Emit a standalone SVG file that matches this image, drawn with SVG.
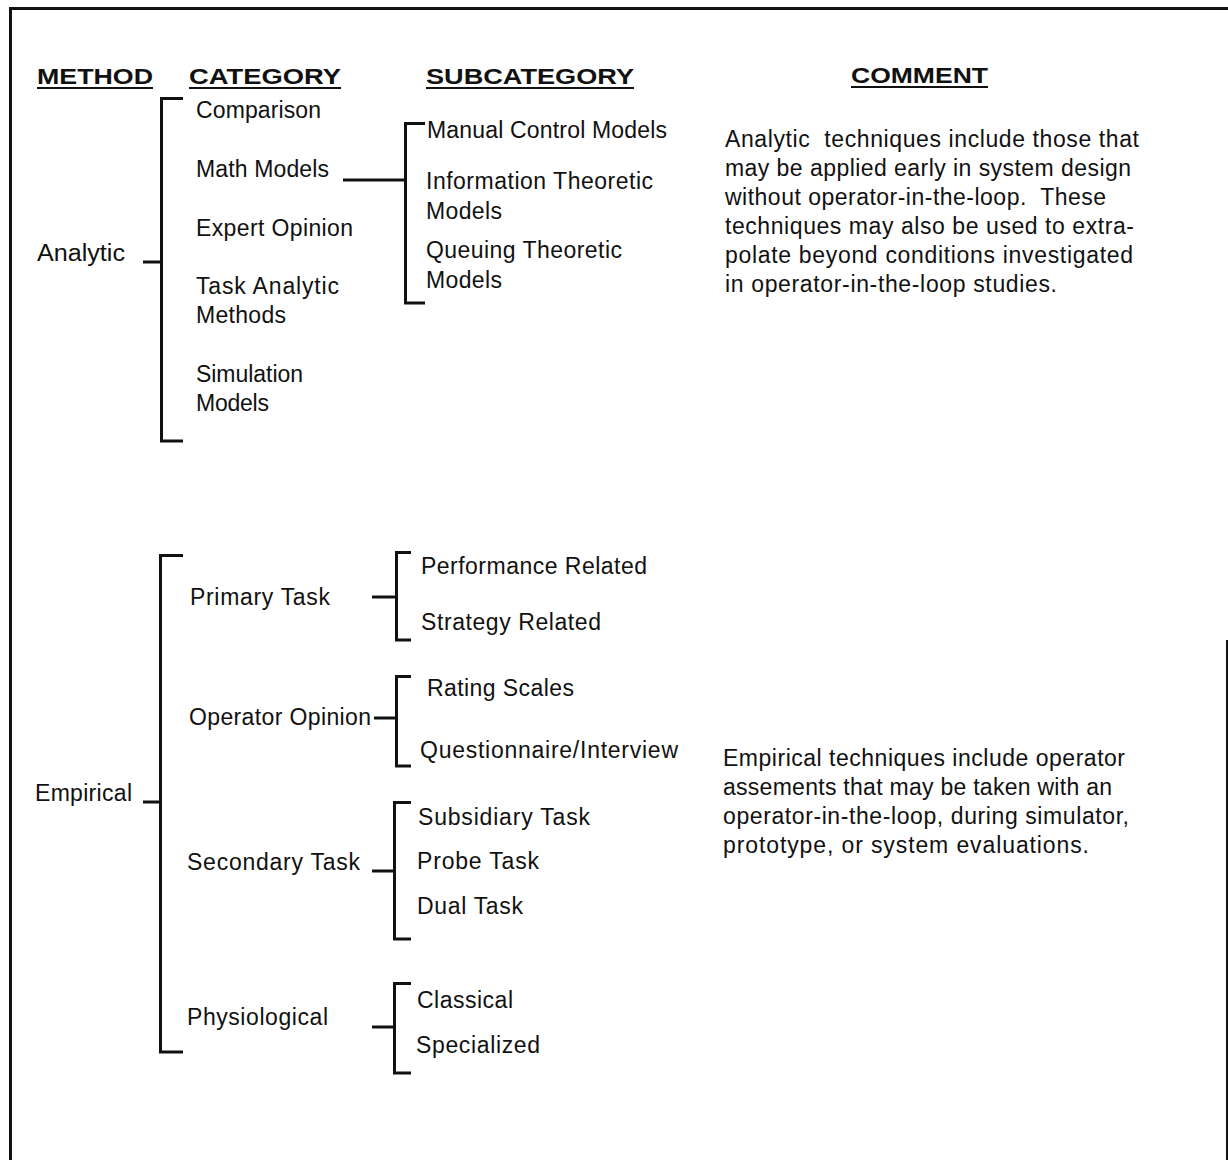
<svg xmlns="http://www.w3.org/2000/svg" width="1228" height="1160" viewBox="0 0 1228 1160">
<style>
text{font-family:"Liberation Sans",Arial,Helvetica,sans-serif;font-size:23px;fill:#111}
.h{font-weight:bold;font-size:22px}
.c{stroke:#111;stroke-width:3;fill:none}
.u{stroke:#111;stroke-width:2}
.b{stroke:#111;fill:none}
</style>
<rect width="1228" height="1160" fill="#fff"/>
<g id="border">
<line class="b" x1="9" y1="8.5" x2="1228" y2="8.5" stroke-width="3"/>
<line class="b" x1="10.5" y1="8" x2="10.5" y2="1160" stroke-width="3"/>
<line class="b" x1="1227" y1="640" x2="1227" y2="1160" stroke-width="2"/>
</g>
<g id="headers">
<text class="h" x="37" y="84" textLength="116" lengthAdjust="spacingAndGlyphs">METHOD</text>
<line class="u" x1="37" y1="88" x2="153" y2="88"/>
<text class="h" x="189" y="84" textLength="152" lengthAdjust="spacingAndGlyphs">CATEGORY</text>
<line class="u" x1="189" y1="88" x2="341" y2="88"/>
<text class="h" x="426" y="84" textLength="208" lengthAdjust="spacingAndGlyphs">SUBCATEGORY</text>
<line class="u" x1="426" y1="88" x2="634" y2="88"/>
<text class="h" x="851" y="83" textLength="137" lengthAdjust="spacingAndGlyphs">COMMENT</text>
<line class="u" x1="851" y1="87" x2="988" y2="87"/>
</g>
<g id="connectors">
<path class="c" d="M183,98.5 H161.5 V441 H183"/>
<path class="c" d="M143,262 H161"/>
<path class="c" d="M343,180 H405"/>
<path class="c" d="M425,123.5 H405.5 V303 H425"/>
<path class="c" d="M183,555.5 H160.5 V1052 H183"/>
<path class="c" d="M143,802 H160"/>
<path class="c" d="M372,597 H396"/>
<path class="c" d="M411,552.5 H396.5 V640 H411"/>
<path class="c" d="M374,718 H396"/>
<path class="c" d="M411,676.5 H396.5 V766 H411"/>
<path class="c" d="M372,871 H394"/>
<path class="c" d="M411,802.5 H394.5 V939 H411"/>
<path class="c" d="M372,1027 H394"/>
<path class="c" d="M411,983.5 H394.5 V1073 H411"/>
</g>
<g id="analytic"><text x="37" y="261" textLength="88" lengthAdjust="spacingAndGlyphs">Analytic</text></g>
<g id="comparison"><text x="196" y="118" textLength="125">Comparison</text></g>
<g id="math-models"><text x="196" y="177" textLength="133">Math Models</text></g>
<g id="expert-opinion"><text x="196" y="236" textLength="157">Expert Opinion</text></g>
<g id="task-analytic"><text x="196" y="294" textLength="143">Task Analytic</text><text x="196" y="323" textLength="90">Methods</text></g>
<g id="simulation"><text x="196" y="382" textLength="107">Simulation</text><text x="196" y="411" textLength="73">Models</text></g>
<g id="manual-control"><text x="427" y="138" textLength="240">Manual Control Models</text></g>
<g id="information-theoretic"><text x="426" y="189" textLength="227">Information Theoretic</text><text x="426" y="219" textLength="76">Models</text></g>
<g id="queuing-theoretic"><text x="426" y="258" textLength="196">Queuing Theoretic</text><text x="426" y="288" textLength="76">Models</text></g>
<g id="comment-analytic">
<text x="725" y="146.5" textLength="414" xml:space="preserve">Analytic  techniques include those that</text>
<text x="725" y="175.5" textLength="406">may be applied early in system design</text>
<text x="725" y="204.5" textLength="381" xml:space="preserve">without operator-in-the-loop.  These</text>
<text x="725" y="233.5" textLength="409">techniques may also be used to extra-</text>
<text x="725" y="262.5" textLength="408">polate beyond conditions investigated</text>
<text x="725" y="291.5" textLength="332">in operator-in-the-loop studies.</text>
</g>
<g id="empirical"><text x="35" y="801" textLength="97">Empirical</text></g>
<g id="primary-task"><text x="190" y="605" textLength="140">Primary Task</text></g>
<g id="performance-related"><text x="421" y="574" textLength="226">Performance Related</text></g>
<g id="strategy-related"><text x="421" y="630" textLength="180">Strategy Related</text></g>
<g id="operator-opinion"><text x="189" y="725" textLength="182">Operator Opinion</text></g>
<g id="rating-scales"><text x="427" y="696" textLength="147">Rating Scales</text></g>
<g id="questionnaire"><text x="420" y="758" textLength="258">Questionnaire/Interview</text></g>
<g id="secondary-task"><text x="187" y="870" textLength="173">Secondary Task</text></g>
<g id="subsidiary-task"><text x="418" y="825" textLength="172">Subsidiary Task</text></g>
<g id="probe-task"><text x="417" y="869" textLength="122">Probe Task</text></g>
<g id="dual-task"><text x="417" y="914" textLength="106">Dual Task</text></g>
<g id="physiological"><text x="187" y="1025" textLength="141">Physiological</text></g>
<g id="classical"><text x="417" y="1008" textLength="96">Classical</text></g>
<g id="specialized"><text x="416" y="1053" textLength="124">Specialized</text></g>
<g id="comment-empirical">
<text x="723" y="766" textLength="402">Empirical techniques include operator</text>
<text x="723" y="795" textLength="389">assements that may be taken with an</text>
<text x="723" y="824" textLength="406">operator-in-the-loop, during simulator,</text>
<text x="723" y="853" textLength="366">prototype, or system evaluations.</text>
</g>
</svg>
